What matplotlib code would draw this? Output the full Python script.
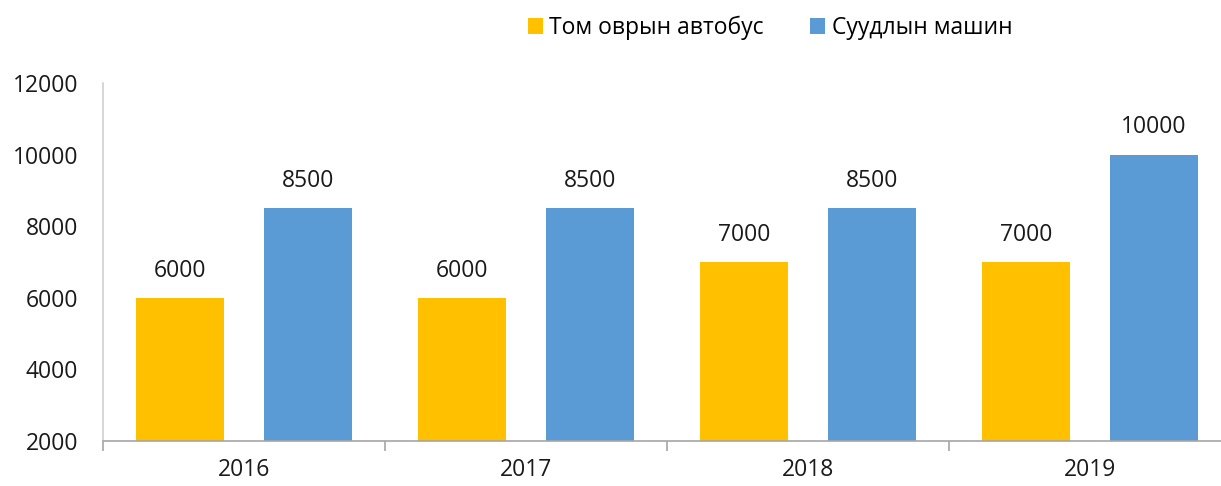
import matplotlib.pyplot as plt
import numpy as np

years = ['2016', '2017', '2018', '2019']
bus = [6000, 6000, 7000, 7000]
car = [8500, 8500, 8500, 10000]
series_names = ['Том оврын автобус', 'Суудлын машин']

plt.rcParams['font.family'] = ['Open Sans', 'DejaVu Sans']
fs = 16.5

fig = plt.figure(figsize=(12.21, 4.86), dpi=100)
ax = fig.add_axes([103 / 1221, 1 - 441 / 486, 1128 / 1221, (441 - 83) / 486])

x = np.arange(len(years))
w = 0.31
off = 0.227
b1 = ax.bar(x - off, np.array(bus) - 2000, w, bottom=2000, color='#FFC000', label=series_names[0])
b2 = ax.bar(x + off, np.array(car) - 2000, w, bottom=2000, color='#5B9BD5', label=series_names[1])

for xs, vals in ((x - off, bus), (x + off, car)):
    for xi, v in zip(xs, vals):
        ax.annotate(str(v), (xi, v), xytext=(0, 11), textcoords='offset points',
                    ha='center', va='bottom', fontsize=fs, color='#1a1a1a')

ax.set_xlim(-0.5, len(years) - 0.5)
ax.set_ylim(2000, 12000)
ax.set_yticks(range(2000, 12001, 2000))
ax.set_xticks(x)
ax.set_xticklabels(years)
ax.set_xticks(np.arange(-0.5, len(years)), minor=True)
ax.tick_params(axis='x', which='major', length=0, pad=12, labelsize=fs, labelcolor='#1a1a1a')
ax.tick_params(axis='x', which='minor', length=7, color='#a6a6a6', width=1.2)
ax.tick_params(axis='y', length=0, pad=18, labelsize=fs, labelcolor='#1a1a1a')

for s in ('top', 'right'):
    ax.spines[s].set_visible(False)
ax.spines['left'].set_color('#d0d0d0')
ax.spines['left'].set_linewidth(1.2)
ax.spines['bottom'].set_color('#a6a6a6')
ax.spines['bottom'].set_linewidth(1.2)

fig.legend(handles=[b1, b2], loc='center', bbox_to_anchor=(770 / 1221, 1 - 28 / 486),
           ncol=2, frameon=False, fontsize=fs, handlelength=0.65, handleheight=0.65,
           handletextpad=0.3, columnspacing=2.0)

fig.savefig('out.png', dpi=100)
